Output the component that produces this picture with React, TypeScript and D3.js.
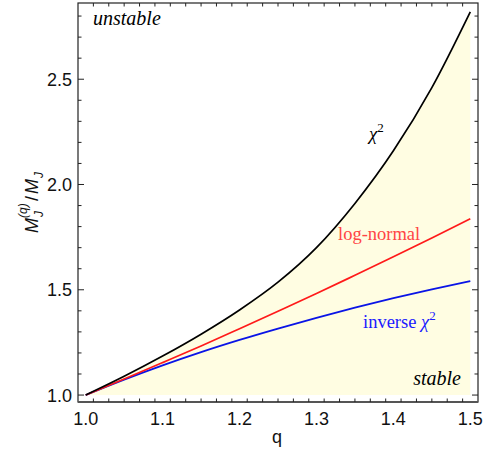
import * as d3 from "d3";

const qs = [1.0, 1.05, 1.1, 1.15, 1.2, 1.25, 1.3, 1.35, 1.4, 1.45, 1.5];
const chi2 = [1.0, 1.089, 1.185, 1.289, 1.404, 1.536, 1.7, 1.91, 2.16, 2.46, 2.82];
const logNormal = [1.0, 1.076, 1.154, 1.233, 1.315, 1.398, 1.482, 1.569, 1.657, 1.746, 1.837];
const invChi2 = [1.0, 1.073, 1.141, 1.204, 1.262, 1.316, 1.367, 1.415, 1.46, 1.502, 1.541];

const xTicks = [1.0, 1.1, 1.2, 1.3, 1.4, 1.5];
const yTicks = [1.0, 1.5, 2.0, 2.5];

const W = 487;
const H = 457;
const left = 78, right = 478, top = 3, bottom = 402;

const App = () => {
  const x = d3.scaleLinear().domain([0.99, 1.51]).range([left, right]);
  const y = d3.scaleLinear().domain([0.967, 2.862]).range([bottom, top]);

  const line = d3
    .line<number>()
    .x((_d, i) => x(qs[i]))
    .y((d) => y(d))
    .curve(d3.curveMonotoneX);

  const area = d3
    .area<number>()
    .x((_d, i) => x(qs[i]))
    .y0(y(1.0))
    .y1((d) => y(d))
    .curve(d3.curveMonotoneX);

  // minor ticks
  const xMinor = d3.range(0, 27).map((i) => 0.99 + i * 0.02).filter((v) => v >= 0.995 && v <= 1.505);
  const yMinor = d3.range(0, 19).map((i) => 1.0 + i * 0.1).filter((v) => v <= 2.86);

  const serif = "'Liberation Serif', 'Times New Roman', serif";
  const sans = "'Liberation Sans', Arial, sans-serif";

  return (
    <svg width={W} height={H} style={{ position: "absolute", left: 0, top: 0, background: "#fff" }}>
      <path d={area(chi2) ?? ""} fill="#fffde2" />

      <path d={line(invChi2) ?? ""} fill="none" stroke="#0a14e6" strokeWidth={1.8} />
      <path d={line(logNormal) ?? ""} fill="none" stroke="#ff1a1a" strokeWidth={1.7} />
      <path d={line(chi2) ?? ""} fill="none" stroke="#000" strokeWidth={1.7} />

      {/* frame */}
      <rect x={left} y={top} width={right - left} height={bottom - top} fill="none" stroke="#222" strokeWidth={1.2} />
      <line x1={left} x2={right} y1={bottom} y2={bottom} stroke="#555" strokeWidth={2} />

      {/* x ticks */}
      {xMinor.map((v, i) => {
        const major = xTicks.some((t) => Math.abs(t - v) < 1e-6);
        const len = major ? 6 : 3.5;
        return (
          <g key={"xm" + i} stroke="#222" strokeWidth={1}>
            <line x1={x(v)} x2={x(v)} y1={bottom} y2={bottom - len} />
            <line x1={x(v)} x2={x(v)} y1={top} y2={top + len} />
          </g>
        );
      })}
      {xTicks.map((t) => (
        <text key={"xt" + t} x={x(t)} y={425} textAnchor="middle" fontFamily={sans} fontSize={18} fill="#111">
          {t.toFixed(1)}
        </text>
      ))}

      {/* y ticks */}
      {yMinor.map((v, i) => {
        const major = yTicks.some((t) => Math.abs(t - v) < 1e-6);
        const len = major ? 6 : 3.5;
        return (
          <g key={"ym" + i} stroke="#222" strokeWidth={1}>
            <line x1={left} x2={left + len} y1={y(v)} y2={y(v)} />
            <line x1={right} x2={right - len} y1={y(v)} y2={y(v)} />
          </g>
        );
      })}
      {yTicks.map((t) => (
        <text key={"yt" + t} x={72} y={y(t) + 6.5} textAnchor="end" fontFamily={sans} fontSize={18} fill="#111">
          {t.toFixed(1)}
        </text>
      ))}

      {/* axis titles */}
      <text x={277} y={443} textAnchor="middle" fontFamily={sans} fontSize={18} fill="#111">
        q
      </text>
      <g transform="translate(33,204) rotate(-90)" fontFamily={sans} fill="#111" fontStyle="italic">
        <text x={-29} y={5} fontSize={18}>M</text>
        <text x={-13} y={10} fontSize={12}>J</text>
        <text x={-14} y={-6} fontSize={12}>(q)</text>
        <text x={3} y={5} fontSize={18} fontStyle="normal">/</text>
        <text x={10} y={5} fontSize={18}>M</text>
        <text x={26} y={10} fontSize={12}>J</text>
      </g>

      {/* annotations */}
      <text x={93} y={25} fontFamily={serif} fontStyle="italic" fontSize={20} fill="#000">
        unstable
      </text>
      <text x={461} y={385} textAnchor="end" fontFamily={serif} fontStyle="italic" fontSize={20} fill="#000">
        stable
      </text>
      <text x={369} y={140} fontFamily={serif} fontSize={19} fill="#000">
        <tspan fontStyle="italic">χ</tspan>
        <tspan fontSize={13} dy={-8}>2</tspan>
      </text>
      <text x={338} y={240} fontFamily={serif} fontSize={18.5} fill="#ff4545">
        log-normal
      </text>
      <text x={363} y={328} fontFamily={serif} fontSize={18.5} fill="#1a1aff">
        inverse <tspan fontStyle="italic">χ</tspan>
        <tspan fontSize={13} dy={-8}>2</tspan>
      </text>
    </svg>
  );
};

export default App;
